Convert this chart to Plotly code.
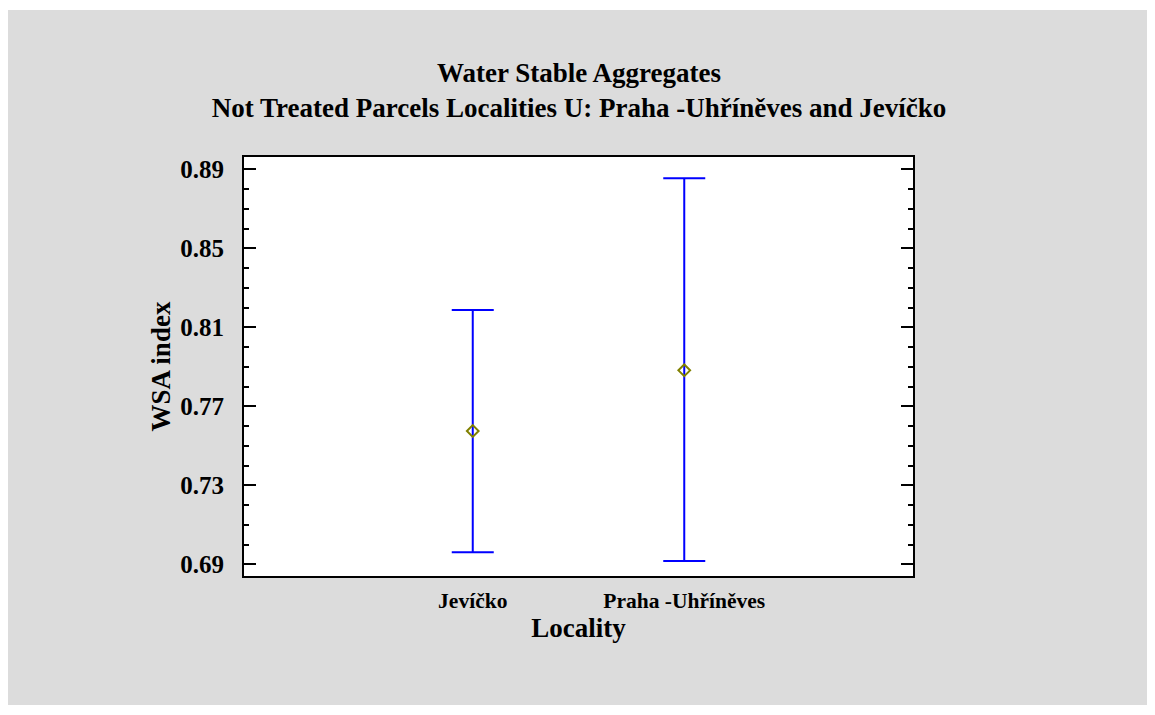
import plotly.graph_objects as go

# Data
localities = ["Jevíčko", "Praha -Uhříněves"]
x_pos = [0, 1]
means = [0.7575, 0.7882]
upper = [0.8188, 0.8854]
lower = [0.6961, 0.6917]
y_ticks = [0.69, 0.73, 0.77, 0.81, 0.85, 0.89]

err_plus = [u - m for u, m in zip(upper, means)]
err_minus = [m - l for m, l in zip(means, lower)]

FONT = "Liberation Serif"
OFF = 8  # browser body margin

# plot area in screenshot coords
PL, PR, PT, PB = 244, 913, 157, 576
W, H = 1155, 715
pw, ph = PR - PL, PB - PT

fig = go.Figure()
fig.add_trace(go.Scatter(
    x=x_pos, y=means, mode="markers",
    marker=dict(symbol="diamond-open", size=9, color="#808000",
                line=dict(width=2, color="#808000")),
    error_y=dict(type="data", symmetric=False, array=err_plus, arrayminus=err_minus,
                 color="#0000FF", thickness=2, width=21),
    showlegend=False,
))

axis_line = dict(showline=True, linecolor="black", linewidth=2,
                 showgrid=False, zeroline=False)

fig.update_layout(
    width=W, height=H,
    margin=dict(l=PL - OFF, r=W - (PR - OFF), t=PT - OFF, b=H - (PB - OFF), pad=0),
    paper_bgcolor="white", plot_bgcolor="white",
    font=dict(family=FONT, color="black"),
    title=dict(text="<b>Water Stable Aggregates</b><br><b>Not Treated Parcels Localities U: Praha -Uhříněves and Jevíčko</b>",
               x=(579 - OFF) / W, xanchor="center", yref="container", y=1 - 74 / H, yanchor="middle",
               font=dict(family=FONT, size=27, color="black")),
    xaxis=dict(range=[-1.0816, 2.0816], tickvals=x_pos, ticktext=[f"<b>{t}</b>" for t in localities],
               ticks="", tickfont=dict(family=FONT, size=21.5, color="black"),
               ticklabelstandoff=4, mirror=True,
               title=dict(text="<b>Locality</b>", font=dict(family=FONT, size=27, color="black"), standoff=4),
               automargin=False, **axis_line),
    yaxis=dict(range=[0.6841, 0.8962], tickvals=y_ticks,
               ticktext=[f"<b>{v:.2f}</b>" for v in y_ticks],
               ticks="inside", ticklen=12, tickwidth=2, tickcolor="black", mirror="ticks",
               minor=dict(dtick=0.01, ticks="inside", ticklen=5, tickwidth=2, tickcolor="black"),
               tickfont=dict(family=FONT, size=25, color="black"),
               ticklabelstandoff=13,
               title=dict(text="<b>WSA index</b>", font=dict(family=FONT, size=27, color="black"), standoff=2),
               automargin=False, **axis_line),
    shapes=[
        dict(type="rect", xref="paper", yref="paper",
             x0=(8 - PL) / pw, x1=(1147 - PL) / pw,
             y0=(PB - 705) / ph, y1=(PB - 10) / ph,
             fillcolor="#DCDCDC", line=dict(width=0), layer="below"),
        dict(type="rect", xref="paper", yref="paper", x0=0, x1=1, y0=0, y1=1,
             fillcolor="white", line=dict(width=0), layer="below"),
    ],
)

fig.write_html("out.html")
